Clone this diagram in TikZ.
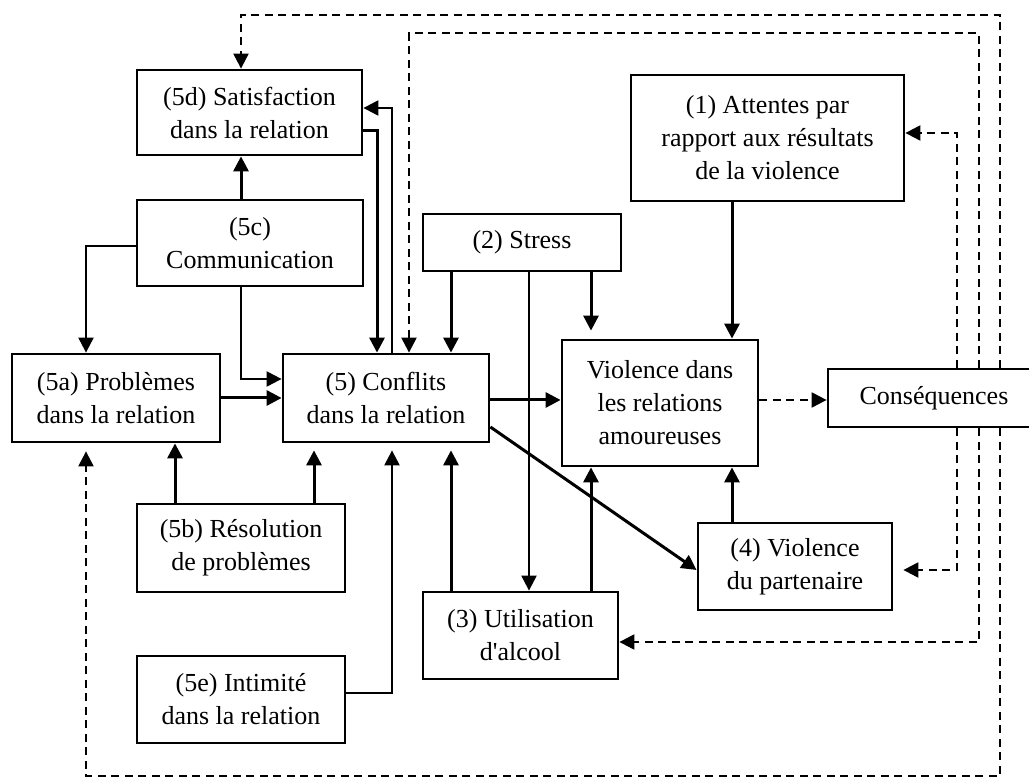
\documentclass[tikz,border=0pt]{standalone}
\usepackage{fontspec}
\setmainfont{Liberation Serif}[Ligatures=TeXOff]
\usetikzlibrary{arrows.meta}
\begin{document}
\begin{tikzpicture}[x=0.5pt,y=-0.5pt,
  box/.style={draw,line width=1.4pt,align=center,inner sep=0pt,
    font=\fontsize{13}{16.5}\selectfont},
  arr/.style={line width=1.5pt,-{Triangle[length=7.5pt,width=7.5pt]}},
  thinarr/.style={line width=1.1pt,-{Triangle[length=7.5pt,width=7.5pt]}},
  darr/.style={line width=1.1pt,dash pattern=on 4pt off 2.75pt,-{Triangle[length=7.5pt,width=7.5pt]}},
  gap/.style={shorten >=3.5pt}]
\useasboundingbox (0,0) rectangle (1029,779);
% nodes
\node[box,minimum width=112.5pt,minimum height=42.5pt] (d5) at (249.5,112.5) {(5d) Satisfaction\\dans la relation};
\node[box,minimum width=113pt,minimum height=43pt] (c5) at (250,243) {(5c)\\Communication};
\node[box,minimum width=104pt,minimum height=44pt] (a5) at (116,398) {(5a) Problèmes\\dans la relation};
\node[box,minimum width=103pt,minimum height=44pt] (conf) at (386,398) {(5) Conflits\\dans la relation};
\node[box,minimum width=99pt,minimum height=28.5pt] (stress) at (522,242.5) {(2) Stress};
\node[box,minimum width=136.5pt,minimum height=63pt] (att) at (767.5,138) {(1) Attentes par\\rapport aux résultats\\de la violence};
\node[box,minimum width=98pt,minimum height=63pt] (viol) at (660,403) {Violence dans\\les relations\\amoureuses};
\node[box,minimum width=106pt,minimum height=29pt] (cons) at (934,398) {Conséquences};
\node[box,minimum width=104pt,minimum height=44pt] (b5) at (241,548) {(5b) Résolution\\de problèmes};
\node[box,minimum width=104pt,minimum height=43.5pt] (e5) at (241,699.5) {(5e) Intimité\\dans la relation};
\node[box,minimum width=97.5pt,minimum height=43.5pt] (alc) at (520.5,635.5) {(3) Utilisation\\d'alcool};
\node[box,minimum width=97pt,minimum height=43.5pt] (p4) at (795,566.5) {(4) Violence\\du partenaire};
% guide coordinates
\coordinate (colA) at (241,0);
\coordinate (colB) at (86,0);
\coordinate (colC) at (377,0);
\coordinate (colD) at (392,0);
\coordinate (colE) at (409,0);
\coordinate (colF) at (451,0);
\coordinate (colG) at (529,0);
\coordinate (colH) at (591,0);
\coordinate (colI) at (732,0);
\coordinate (colJ) at (957,0);
\coordinate (colK) at (979,0);
\coordinate (colL) at (1000,0);
\coordinate (colM) at (175,0);
\coordinate (colN) at (314,0);
\coordinate (r15) at (0,15);
\coordinate (r33) at (0,33);
\coordinate (r108) at (0,108);
\coordinate (r131) at (0,131);
\coordinate (r133) at (0,133);
\coordinate (r246) at (0,246);
\coordinate (r379) at (0,379);
\coordinate (r397) at (0,398);
\coordinate (r400) at (0,400);
\coordinate (r427) at (0,427);
\coordinate (r570) at (0,570);
\coordinate (r642) at (0,642);
\coordinate (r693) at (0,693);
\coordinate (rBot) at (0,776);
% solid connectors
\draw[arr] (c5.north -| colA) -- (d5.south -| colA);
\draw[thinarr] (c5.west |- r246) -| (a5.north -| colB);
\draw[thinarr] (c5.south -| colA) |- (conf.west |- r379);
\draw[arr] (a5.east |- r397) -- (conf.west |- r397);
\draw[arr] (d5.east |- r131) -| (conf.north -| colC);
\draw[thinarr] (conf.north -| colD) |- (d5.east |- r108);
\draw[arr] (stress.south -| colF) -- (conf.north -| colF);
\draw[thinarr] (stress.south -| colG) -- (alc.north -| colG);
\draw[arr,shorten >=4pt] (stress.south -| colH) -- (viol.north -| colH);
\draw[arr] (att.south -| colI) -- (viol.north -| colI);
\draw[arr] (conf.east |- r400) -- (viol.west |- r400);
\draw[arr] (conf.east |- r427) -- (p4.west |- r570);
\draw[arr,gap] (alc.north -| colF) -- (conf.south -| colF);
\draw[arr] (alc.north -| colH) -- (viol.south -| colH);
\draw[arr] (p4.north -| colI) -- (viol.south -| colI);
\draw[arr] (b5.north -| colM) -- (a5.south -| colM);
\draw[arr,gap] (b5.north -| colN) -- (conf.south -| colN);
\draw[thinarr,gap] (e5.east |- r693) -| (conf.south -| colD);
% dashed connectors
\draw[darr] (viol.east |- r400) -- (cons.west |- r400);
\draw[darr] (cons.north -| colK) |- (colE |- r33) -- (conf.north -| colE);
\draw[darr] (cons.north -| colL) |- (colA |- r15) -- (d5.north -| colA);
\draw[darr] (cons.north -| colJ) |- (att.east |- r133);
\draw[darr,shorten >=5pt] (cons.south -| colJ) |- (p4.east |- r570);
\draw[darr] (cons.south -| colK) |- (alc.east |- r642);
\draw[darr,shorten >=4pt] (cons.south -| colL) |- (colB |- rBot) -- (a5.south -| colB);
\end{tikzpicture}
\end{document}
